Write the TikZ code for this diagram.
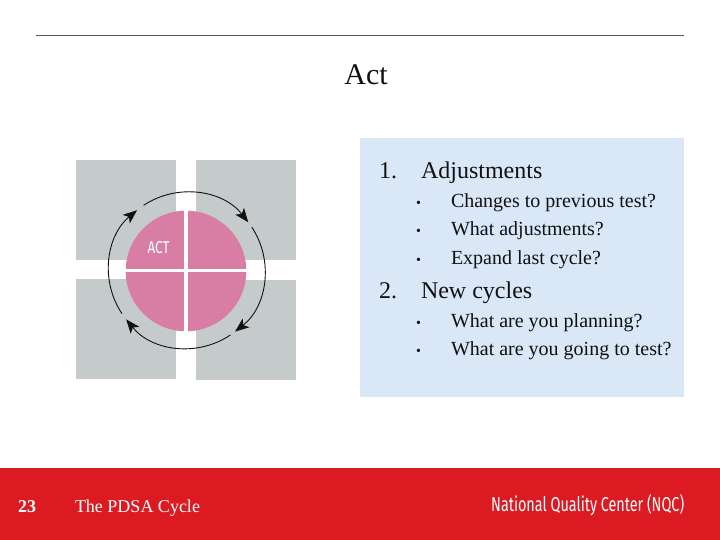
\documentclass[tikz,border=0pt]{standalone}
\usepackage{fontspec}
\setmainfont{Liberation Serif}
\newfontfamily\logofont{Fira Sans}
\usetikzlibrary{arrows.meta}
\definecolor{panelblue}{HTML}{DAE7F7}
\definecolor{barred}{HTML}{DC1A22}
\definecolor{squaregrey}{HTML}{C5CBCB}
\definecolor{petal}{HTML}{D87DA3}
\definecolor{ruleline}{HTML}{555555}
\definecolor{ink}{HTML}{111111}
\tikzset{
  x=1pt,y=1pt,
  square/.style={fill=squaregrey,draw=none},
  txt/.style={anchor=base west,inner sep=0pt,outer sep=0pt,text=ink},
  head/.style={txt,font=\fontsize{24}{24}\selectfont},
  sub/.style={txt,font=\fontsize{20}{20}\selectfont},
  dot/.style={txt,font=\fontsize{14}{14}\selectfont},
  foot/.style={txt,text=white,font=\fontsize{18}{18}\selectfont},
  cyc/.style={draw=ink,line width=0.9pt,-{Stealth[length=14pt,width=11pt,inset=3.5pt]}}
}
\begin{document}
\begin{tikzpicture}
\useasboundingbox (0,0) rectangle (720,540);
\fill[white] (0,0) rectangle (720,540);
\draw[ruleline,line width=0.8pt] (36,504.5) -- (684,504.5);
\node[anchor=base,inner sep=0pt,text=ink,font=\fontsize{30}{30}\selectfont] (title) at (366,455.5) {Act};
% panel
\fill[panelblue] (360,143) rectangle (684,402);
\node[head] (n1) at (379,361.5) {1.};
\node[head] (h1) at (421,361.5) {Adjustments};
\node[dot] (b1) at (416,332) {•};
\node[sub] (s1) at (451,332) {Changes to previous test?};
\node[dot] (b2) at (416,304.5) {•};
\node[sub] (s2) at (451,304.5) {What adjustments?};
\node[dot] (b3) at (416,275.5) {•};
\node[sub] (s3) at (451,275.5) {Expand last cycle?};
\node[head] (n2) at (379,241) {2.};
\node[head] (h2) at (421,241) {New cycles};
\node[dot] (b4) at (416,212) {•};
\node[sub] (s4) at (451,212) {What are you planning?};
\node[dot] (b5) at (416,184) {•};
\node[sub] (s5) at (451,184) {What are you going to test?};
% squares
\fill[square] (76,280) rectangle (176,380);
\fill[square] (196,280) rectangle (296,380);
\fill[square] (76,161) rectangle (176,261);
\fill[square] (196,160) rectangle (296,260);
% circle
\fill[petal] (186,269) circle (60.3);
\fill[white] (184.2,207) rectangle (188,331);
\fill[white] (125,267.5) rectangle (247,270.6);
\node[inner sep=0pt,text=white] (act) at (158.5,292) {\resizebox{22pt}{12pt}{\logofont\fontseries{l}\selectfont ACT}};
% cycle arrows
\draw[cyc] ([shift={(186.8,269.7)}]123.6:78) arc (123.6:38:78);
\draw[cyc] ([shift={(186.8,269.7)}]33.5:78) arc (33.5:-51.8:78);
\draw[cyc] ([shift={(186.8,269.7)}]-56:78) arc (-56:-141:78);
\draw[cyc] ([shift={(186.8,269.7)}]-146.3:78) arc (-146.3:-230.4:78);
% footer
\fill[barred] (0,0) rectangle (720,72);
\node[foot,font=\fontsize{18}{18}\selectfont\bfseries] (num) at (18,27) {23};
\node[foot] (ftxt) at (75,27) {The PDSA Cycle};
\node[inner sep=0pt,text=white,anchor=west] (nqc) at (491,34.5) {\resizebox{193pt}{17pt}{\logofont\fontseries{m}\selectfont National Quality Center (NQC)}};
\end{tikzpicture}
\end{document}
